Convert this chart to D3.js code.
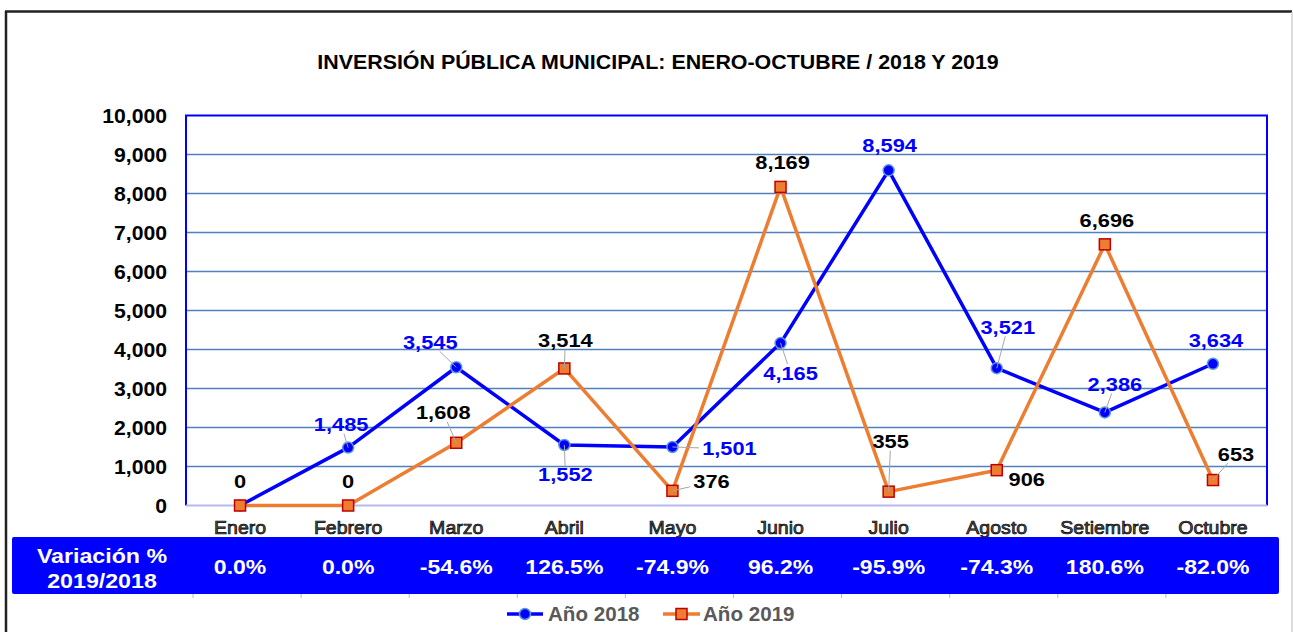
<!DOCTYPE html>
<html lang="es">
<head>
  <meta charset="UTF-8">
  <title>Inversión Pública Municipal</title>
  <script src="https://d3js.org/d3.v7.min.js"></script>
  <style>
    body {
      margin: 0;
      background-color: #ffffff;
      font-family: Arial, "Liberation Sans", sans-serif;
    }
    svg { display: block; }
    .title { font-size: 20px; font-weight: bold; fill: #000; }
    .y-tick { font-size: 20px; font-weight: bold; fill: #000; }
    .month { font-size: 19px; fill: #555; stroke: #000; stroke-width: 0.7px; }
    .band-text { font-size: 20px; font-weight: bold; fill: #fff; }
    .lbl18 { font-size: 18.5px; font-weight: bold; fill: #0000ff; }
    .lbl19 { font-size: 18.5px; font-weight: bold; fill: #000; }
    .legend-text { font-size: 20px; font-weight: bold; fill: #595959; }
  </style>
</head>
<body>
  <svg id="chart"></svg>
  <script>
    // data
    const months = ["Enero", "Febrero", "Marzo", "Abril", "Mayo", "Junio", "Julio", "Agosto", "Setiembre", "Octubre"];
    const values2018 = [0, 1485, 3545, 1552, 1501, 4165, 8594, 3521, 2386, 3634];
    const values2019 = [0, 0, 1608, 3514, 376, 8169, 355, 906, 6696, 653];
    const variacion = ["0.0%", "0.0%", "-54.6%", "126.5%", "-74.9%", "96.2%", "-95.9%", "-74.3%", "180.6%", "-82.0%"];
    const yTicks = [0, 1000, 2000, 3000, 4000, 5000, 6000, 7000, 8000, 9000, 10000];

    // label placement (offset from marker), null = no label, true = leader line
    const off2018 = [null, [-7, -23], [-26, -25], [1, 30], [57, 2], [10, 30], [1, -25], [11, -41], [10, -28], [3, -23]];
    const lead2018 = [false, true, true, true, true, true, false, true, true, false];
    const off2019 = [[0, -24], [0, -24], [-13, -30], [1, -28], [39, -9], [2, -24], [2, -50], [30, 9], [2, -24], [23, -26]];
    const lead2019 = [false, false, true, true, true, false, true, false, false, true];

    const W = 1293, H = 632;
    const plot = { left: 186, right: 1267, top: 115.5, bottom: 505.5 };

    const svg = d3.select("#chart").attr("width", W).attr("height", H);

    // text is drawn a bit wider than the font, like the original export
    function stretchText(parent, cls, x, y, str, sx, anchor) {
      return parent.append("text").attr("class", cls)
        .attr("transform", `translate(${x},${y}) scale(${sx},1)`)
        .attr("text-anchor", anchor || "middle")
        .text(str);
    }

    // outer frame
    svg.append("line").attr("x1", 5).attr("x2", 1292).attr("y1", 11.5).attr("y2", 11.5)
       .attr("stroke", "#222").attr("stroke-width", 2.5);
    svg.append("line").attr("x1", 6).attr("x2", 6).attr("y1", 11).attr("y2", H)
       .attr("stroke", "#222").attr("stroke-width", 2.5);
    svg.append("line").attr("x1", 1292).attr("x2", 1292).attr("y1", 12).attr("y2", H)
       .attr("stroke", "#d0d0d0").attr("stroke-width", 1.5);

    stretchText(svg, "title", 658, 69, "INVERSIÓN PÚBLICA MUNICIPAL: ENERO-OCTUBRE / 2018 Y 2019", 1.07);

    const x = d3.scaleBand().domain(months).range([plot.left, plot.right]);
    const y = d3.scaleLinear().domain([0, 10000]).range([plot.bottom, plot.top]);
    const cx = m => x(m) + x.bandwidth() / 2;

    // gridlines
    svg.append("g").selectAll("line")
       .data(yTicks.filter(t => t > 0 && t < 10000))
       .enter().append("line")
       .attr("x1", plot.left).attr("x2", plot.right)
       .attr("y1", d => y(d)).attr("y2", d => y(d))
       .attr("stroke", "#4f81bd").attr("stroke-width", 1.5);

    // plot border
    svg.append("path")
       .attr("d", `M${plot.left},${plot.bottom}V${plot.top}H${plot.right}V${plot.bottom}`)
       .attr("fill", "none").attr("stroke", "#0000ff").attr("stroke-width", 2);
    svg.append("line").attr("x1", plot.left).attr("x2", plot.right)
       .attr("y1", plot.bottom).attr("y2", plot.bottom)
       .attr("stroke", "#b8b8f0").attr("stroke-width", 2);

    // y axis labels
    const yAxis = svg.append("g")
       .attr("transform", `translate(${plot.left - 19},0)`)
       .call(d3.axisLeft(y).tickValues(yTicks).tickFormat(d3.format(",")).tickSize(0).tickPadding(0));
    yAxis.select(".domain").remove();
    yAxis.selectAll("text").attr("class", "y-tick").attr("font-family", null).attr("font-size", null)
       .attr("fill", null).attr("dy", "0.35em").attr("x", 0).attr("transform", "scale(1.06,1)");

    // month labels
    const mg = svg.append("g");
    months.forEach(m => stretchText(mg, "month", cx(m), 534, m, 1.03));

    // variation band
    svg.append("rect").attr("x", 12).attr("y", 537).attr("width", 1267).attr("height", 57)
       .attr("fill", "#0000ff").attr("rx", 2);
    stretchText(svg, "band-text", 102, 563, "Variación %", 1.16);
    stretchText(svg, "band-text", 102, 588, "2019/2018", 1.16);
    const bg = svg.append("g");
    variacion.forEach((v, i) => stretchText(bg, "band-text", cx(months[i]), 574, v, 1.15));
    // small separators below the band
    svg.append("g").selectAll("line")
       .data(months).enter().append("line")
       .attr("x1", d => x(d) + 7).attr("x2", d => x(d) + 7)
       .attr("y1", 594).attr("y2", 598)
       .attr("stroke", "#bbb").attr("stroke-width", 1);

    const line = d3.line().x((d, i) => cx(months[i])).y(d => y(d));

    // series lines
    svg.append("path").datum(values2018).attr("d", line)
       .attr("fill", "none").attr("stroke", "#0000ff").attr("stroke-width", 3.5)
       .attr("stroke-linejoin", "round");
    svg.append("path").datum(values2019).attr("d", line)
       .attr("fill", "none").attr("stroke", "#ed7d31").attr("stroke-width", 3.5)
       .attr("stroke-linejoin", "round");

    // leader lines + labels
    function labels(values, offs, leads, cls) {
      const g = svg.append("g");
      values.forEach((v, i) => {
        const o = offs[i];
        if (!o) return;
        const px = cx(months[i]), py = y(v);
        const lx = px + o[0], ly = py + o[1];
        const t = stretchText(g, cls, lx, ly, d3.format(",")(v), 1.18).attr("dy", "0.35em");
        if (leads[i]) {
          const bb = t.node().getBBox();
          const hw = bb.width * 1.18 / 2 + 3, hh = bb.height / 2 - 1;
          const dx = px - lx, dy = py - ly;
          const s = Math.min(dx === 0 ? Infinity : hw / Math.abs(dx), dy === 0 ? Infinity : hh / Math.abs(dy));
          g.insert("line", "text")
            .attr("x1", lx + dx * s).attr("y1", ly + dy * s)
            .attr("x2", px).attr("y2", py)
            .attr("stroke", "#a6a6a6").attr("stroke-width", 1);
        }
      });
    }

    // markers
    svg.append("g").selectAll("circle")
       .data(values2018).enter().append("circle")
       .attr("cx", (d, i) => cx(months[i])).attr("cy", d => y(d)).attr("r", 5.5)
       .attr("fill", "#0000ff").attr("stroke", "#5b9bd5").attr("stroke-width", 1.5);
    svg.append("g").selectAll("rect")
       .data(values2019).enter().append("rect")
       .attr("x", (d, i) => cx(months[i]) - 5.5).attr("y", d => y(d) - 5.5)
       .attr("width", 11).attr("height", 11)
       .attr("fill", "#ed7d31").attr("stroke", "#c00000").attr("stroke-width", 1.5);

    labels(values2018, off2018, lead2018, "lbl18");
    labels(values2019, off2019, lead2019, "lbl19");

    // legend
    const lg = svg.append("g").attr("transform", "translate(0,614)");
    lg.append("line").attr("x1", 507).attr("x2", 543).attr("stroke", "#0000ff").attr("stroke-width", 3.5);
    lg.append("circle").attr("cx", 525).attr("r", 5.5)
      .attr("fill", "#0000ff").attr("stroke", "#5b9bd5").attr("stroke-width", 1.5);
    stretchText(lg, "legend-text", 548, 0, "Año 2018", 1.03, "start").attr("dy", "0.35em");
    lg.append("line").attr("x1", 663).attr("x2", 700).attr("stroke", "#ed7d31").attr("stroke-width", 3.5);
    lg.append("rect").attr("x", 676).attr("y", -5.5).attr("width", 11).attr("height", 11)
      .attr("fill", "#ed7d31").attr("stroke", "#c00000").attr("stroke-width", 1.5);
    stretchText(lg, "legend-text", 703, 0, "Año 2019", 1.03, "start").attr("dy", "0.35em");
  </script>
</body>
</html>
